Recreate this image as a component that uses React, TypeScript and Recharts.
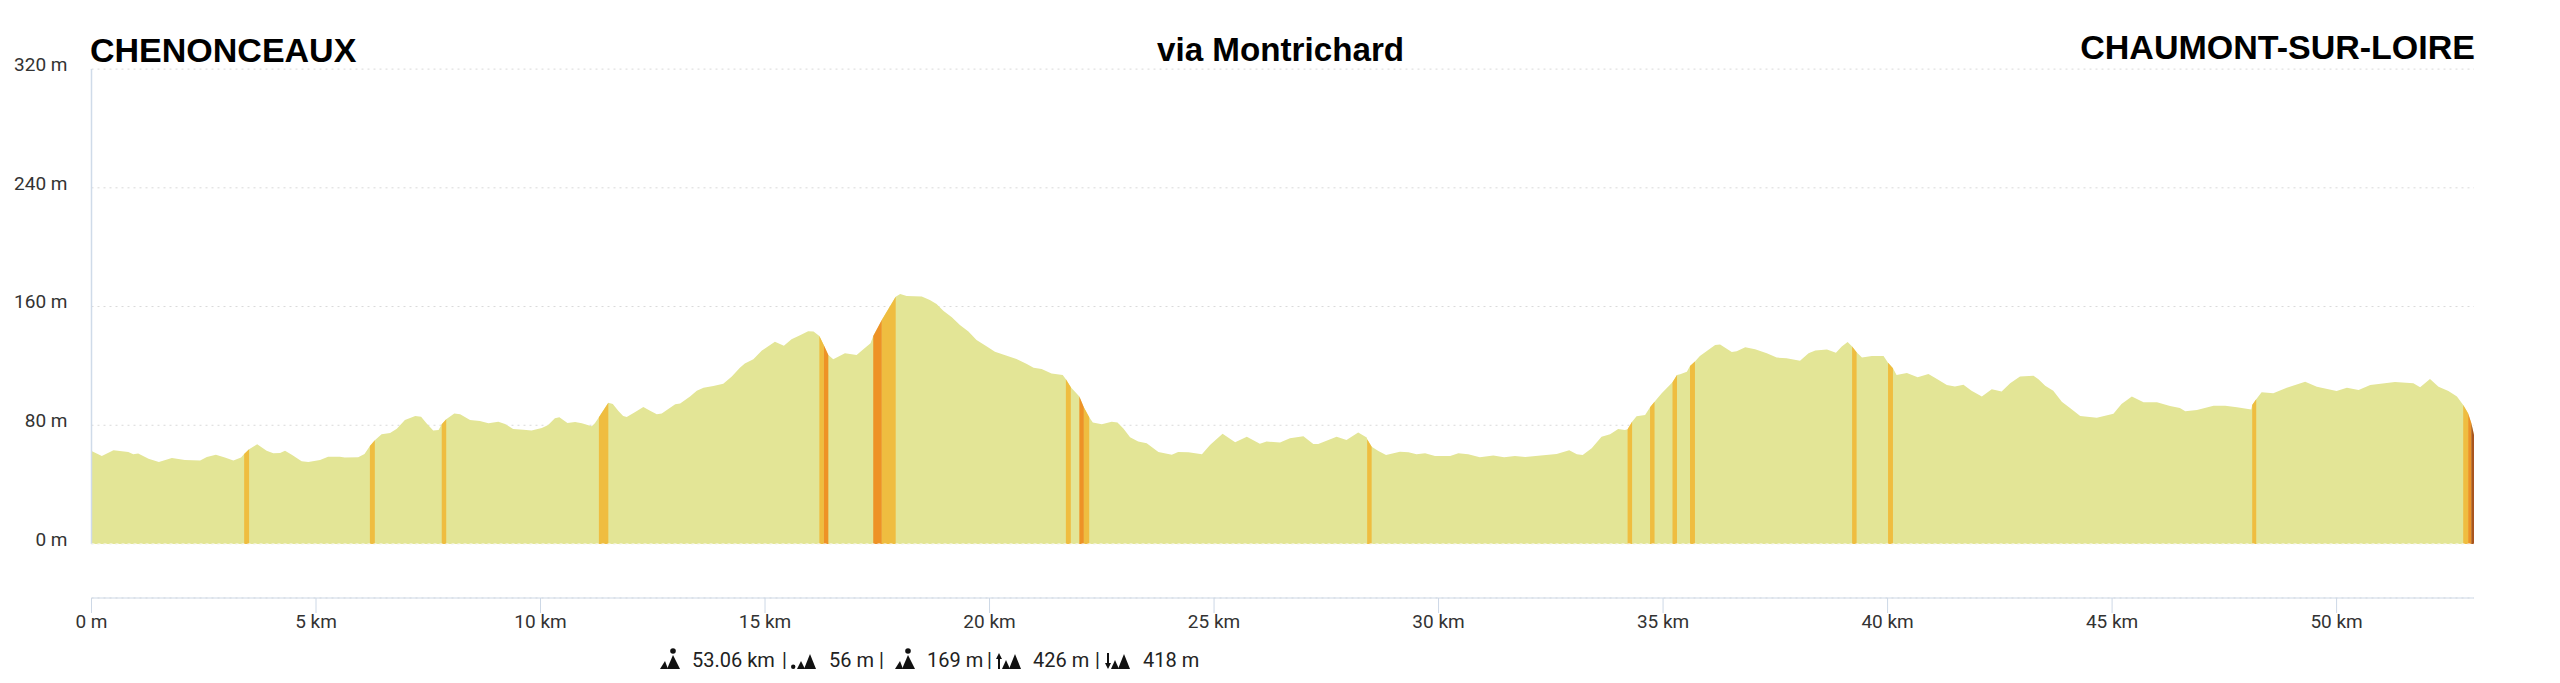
import { Area, AreaChart, CartesianGrid, ReferenceLine, XAxis, YAxis } from "recharts";

const TOTAL_KM = 53.06;
const X_TICKS = [0, 5, 10, 15, 20, 25, 30, 35, 40, 45, 50];
const Y_TICKS = [0, 80, 160, 240, 320];

// distance along the route (km)
const KMS = [
  0, 0.23, 0.49, 0.82, 0.93, 1.04, 1.27, 1.5, 1.79, 2.08, 2.42, 2.57, 2.77, 2.97, 3.16, 3.33, 3.4, 3.51, 3.69, 3.9,
  4.05, 4.2, 4.31, 4.46, 4.68, 4.83, 5.09, 5.27, 5.53, 5.64, 5.94, 6.08, 6.2, 6.31, 6.46, 6.65, 6.8, 6.98, 7.21, 7.34,
  7.46, 7.61, 7.73, 7.8, 7.9, 8.08, 8.21, 8.43, 8.65, 8.84, 9.06, 9.21, 9.39, 9.62, 9.8, 10.03, 10.17, 10.32, 10.42, 10.6,
  10.77, 10.92, 11.14, 11.21, 11.3, 11.51, 11.61, 11.73, 11.84, 11.92, 12.1, 12.29, 12.44, 12.59, 12.7, 13, 13.11, 13.33, 13.48, 13.63,
  13.85, 14.07, 14.26, 14.44, 14.55, 14.74, 14.93, 15.22, 15.42, 15.59, 15.78, 15.96, 16.08, 16.21, 16.31, 16.41, 16.52, 16.78, 17.04, 17.19,
  17.35, 17.41, 17.6, 17.91, 18.01, 18.155, 18.49, 18.67, 18.82, 18.97, 19.16, 19.34, 19.53, 19.71, 19.94, 20.12, 20.35, 20.6, 20.83, 20.98,
  21.16, 21.38, 21.63, 21.7, 21.81, 22, 22.1, 22.22, 22.3, 22.5, 22.72, 22.85, 22.98, 23.13, 23.31, 23.5, 23.76, 23.87, 24.06, 24.2,
  24.43, 24.73, 24.91, 25.19, 25.47, 25.73, 26.02, 26.17, 26.47, 26.69, 26.99, 27.21, 27.32, 27.73, 27.95, 28.21, 28.4, 28.41, 28.51, 28.66,
  28.83, 29.14, 29.33, 29.51, 29.7, 29.92, 30.26, 30.44, 30.66, 30.92, 31.22, 31.46, 31.7, 31.93, 32.22, 32.63, 32.91, 33.08, 33.21, 33.41,
  33.63, 33.82, 34, 34.15, 34.21, 34.31, 34.41, 34.6, 34.71, 34.81, 34.97, 35.21, 35.31, 35.38, 35.53, 35.6, 35.71, 35.82, 36.16, 36.27,
  36.53, 36.64, 36.83, 37.05, 37.31, 37.53, 37.75, 38.05, 38.24, 38.39, 38.65, 38.85, 38.98, 39.11, 39.21, 39.31, 39.43, 39.65, 39.91, 40.01,
  40.12, 40.2, 40.43, 40.67, 40.91, 41.1, 41.32, 41.5, 41.69, 41.87, 42.1, 42.32, 42.54, 42.73, 42.95, 43.25, 43.36, 43.51, 43.69, 43.88,
  44.07, 44.29, 44.66, 45.03, 45.21, 45.44, 45.7, 46, 46.29, 46.51, 46.63, 46.89, 47.26, 47.52, 47.78, 48.1, 48.12, 48.21, 48.33, 48.59,
  48.89, 49.3, 49.56, 50, 50.23, 50.49, 50.75, 51.3, 51.71, 51.86, 52.08, 52.27, 52.49, 52.68, 52.82, 52.93, 53, 53.06,
];

// elevation (m) at each of the KMS points
const ELEVATIONS = [
  62.7, 59.3, 63.1, 62, 60.4, 60.9, 57.5, 55.3, 58, 56.6, 56.2, 58.6, 60.2, 58.2, 56.2, 58.2, 60.6, 63.8, 67.2, 62.9,
  61.1, 61.3, 62.9, 60.2, 55.7, 55.3, 56.6, 58.8, 58.8, 58.2, 58.4, 60.6, 66, 69.9, 73.9, 74.8, 77.7, 83.6, 86.3, 85.8,
  81.3, 76.4, 76.8, 80.6, 84, 88, 87.4, 83.6, 82.9, 81.3, 82.4, 80.9, 77.5, 77, 76.4, 78.2, 80.2, 84.7, 85.4, 81.5,
  82.2, 81.3, 79.3, 81.3, 85.4, 95.2, 94.3, 89.8, 86.3, 85.6, 88.7, 92.3, 89.8, 87.4, 88, 94.1, 94.6, 99.3, 103.3, 105.3,
  106.5, 108, 112.8, 118.8, 121.7, 124.4, 130.3, 136.3, 133.6, 137.9, 140.6, 143.3, 143.1, 140.2, 133.9, 127.4, 124.4, 128.5, 127.4, 131.2,
  135.2, 140.2, 151, 166.6, 168.5, 167.1, 166.7, 164.4, 161.7, 157.2, 152.7, 147.6, 143.1, 137.5, 133, 129.6, 127.1, 124.7, 121.3, 118.8,
  117.9, 114.8, 113.9, 111, 105.6, 99.3, 92.1, 85.4, 81.8, 80.6, 82.4, 81.8, 77.9, 71.9, 69, 67.8, 62, 61.3, 60.2, 62,
  61.8, 60.4, 66.7, 74.3, 68.5, 72.3, 67.6, 69, 68.3, 71.2, 72.6, 67.4, 67.4, 72.3, 70.1, 75.2, 71.7, 70.5, 65.6, 62.7,
  60, 62.2, 61.8, 60.4, 61.1, 59.3, 59.3, 61.1, 60.4, 58.4, 59.7, 58.4, 59.3, 58.6, 59.5, 60.6, 63.1, 60.4, 60, 64.5,
  72.3, 73.9, 77.5, 76.8, 77.3, 82.4, 86, 86.9, 92.1, 95.9, 101.5, 108.9, 113.9, 114.3, 116.1, 120, 122.9, 126.7, 134.1, 134.5,
  129.4, 129.8, 132.5, 131.2, 128.5, 125.6, 125.1, 123.5, 128.5, 130.3, 131, 128.9, 133, 136.1, 133, 129.2, 125.6, 126.7, 126.7, 122.2,
  118.4, 113.9, 115.2, 112.3, 114.6, 111.2, 107.1, 106.2, 107.3, 103.3, 99.3, 104.2, 102.7, 108.3, 112.8, 113.4, 111, 106.7, 103.3, 95.9,
  91.4, 86.3, 85.1, 87.8, 94.3, 99.3, 95.5, 95.5, 93, 91.6, 89.4, 90.3, 93.2, 93.2, 92.1, 90.7, 93.7, 97.5, 102.2, 101.5,
  105.3, 109.4, 106, 103.1, 105.3, 103.8, 107.1, 109.2, 108.3, 105.6, 111.2, 106, 103.1, 99.3, 93.7, 88, 81.5, 73.5,
];

// steep stretches, [from km, to km] for each gradient class
const MODERATE_SLOPES = [
  [3.4, 3.51], [6.2, 6.31], [7.8, 7.9], [11.3, 11.51], [16.21, 16.31], [17.6, 17.91], [21.7, 21.81], [22.1, 22.22], [28.41, 28.51],
  [34.21, 34.31], [34.71, 34.81], [35.21, 35.31], [35.6, 35.71], [39.21, 39.31], [40.01, 40.12], [48.12, 48.21], [52.82, 52.93],
];
const STEEP_SLOPES = [[16.31, 16.41], [17.41, 17.6], [22, 22.1], [52.93, 53]];
const VERY_STEEP_SLOPES = [[53, 53.06]];

const inBands = (km: number, bands: number[][]) => bands.some(([a, b]) => km >= a && km <= b);

const data = KMS.map((km, i) => ({
  km,
  elevation: ELEVATIONS[i],
  moderate: inBands(km, MODERATE_SLOPES) ? ELEVATIONS[i] : null,
  steep: inBands(km, STEEP_SLOPES) ? ELEVATIONS[i] : null,
  verySteep: inBands(km, VERY_STEEP_SLOPES) ? ELEVATIONS[i] : null,
}));

const TICK_FONT = "Roboto, sans-serif";

function StatIcon({ kind, left }: { kind: "distance" | "min" | "up" | "down"; left: number }) {
  const wide = kind !== "distance";
  return (
    <svg
      width={wide ? 25 : 20}
      height={21}
      viewBox={wide ? "0 0 25 21" : "0 0 20 21"}
      style={{ position: "absolute", left, top: 648 }}
      fill="#111"
    >
      {kind === "distance" && (
        <>
          <path d="M0 21 L5 13 L8 21 Z" />
          <path d="M7 21 L13 7 L20 21 Z" />
          <circle cx="13" cy="3" r="2.8" />
        </>
      )}
      {kind === "min" && (
        <>
          <circle cx="2.2" cy="18.8" r="2.2" />
          <path d="M6 21 L10 13 L14 21 Z" />
          <path d="M13 21 L19 6 L25 21 Z" />
        </>
      )}
      {kind === "up" && (
        <>
          <path d="M2 21 L2 11 L0 11 L3 5 L6 11 L4 11 L4 21 Z" />
          <path d="M6 21 L10 12 L14 21 Z" />
          <path d="M13 21 L19 6 L25 21 Z" />
        </>
      )}
      {kind === "down" && (
        <>
          <path d="M2 5 L2 15 L0 15 L3 21 L6 15 L4 15 L4 5 Z" />
          <path d="M6 21 L10 12 L14 21 Z" />
          <path d="M13 21 L19 6 L25 21 Z" />
        </>
      )}
    </svg>
  );
}

const titleStyle = {
  position: "absolute",
  fontFamily: "'Liberation Sans', Arial, sans-serif",
  fontWeight: 700,
  color: "#000",
  whiteSpace: "nowrap",
  lineHeight: 1,
} as const;

const statStyle = {
  position: "absolute",
  top: 648,
  fontFamily: TICK_FONT,
  fontSize: 20,
  lineHeight: "24px",
  color: "#222",
  whiteSpace: "nowrap",
} as const;

export default function App() {
  return (
    <div style={{ position: "absolute", left: 0, top: 0, width: 2560, height: 683, background: "#fff", overflow: "hidden" }}>
      <AreaChart
        width={2560}
        height={683}
        data={data}
        margin={{ top: 69.1, right: 86, bottom: 0, left: 0 }}
      >
        <CartesianGrid vertical={false} stroke="#d9d9d9" strokeDasharray="2 4" />
        <XAxis
          dataKey="km"
          type="number"
          domain={[0, TOTAL_KM]}
          ticks={X_TICKS}
          height={85}
          interval={0}
          stroke="#cdd8e6"
          tickSize={15}
          tickMargin={2}
          tick={{ fill: "#333", fontSize: 19, fontFamily: TICK_FONT }}
          tickFormatter={(v: number) => (v === 0 ? "0 m" : `${v} km`)}
        />
        <YAxis
          type="number"
          domain={[-36.4, 320]}
          ticks={Y_TICKS}
          width={91.5}
          interval={0}
          axisLine={false}
          tickLine={false}
          tickMargin={18}
          tick={{ fill: "#333", fontSize: 19, fontFamily: TICK_FONT, dy: -5 }}
          tickFormatter={(v: number) => `${v} m`}
        />
        <ReferenceLine
          segment={[{ x: 0, y: 0 }, { x: 0, y: 320 }]}
          stroke="#cfdbe9"
          strokeWidth={1.5}
        />
        <Area dataKey="elevation" type="linear" baseValue={0} stroke="none" fill="#E3E596" fillOpacity={1} dot={false} activeDot={false} isAnimationActive={false} />
        <Area dataKey="moderate" type="linear" baseValue={0} stroke="none" fill="#EFBD40" fillOpacity={1} dot={false} activeDot={false} isAnimationActive={false} />
        <Area dataKey="steep" type="linear" baseValue={0} stroke="none" fill="#EE9226" fillOpacity={1} dot={false} activeDot={false} isAnimationActive={false} />
        <Area dataKey="verySteep" type="linear" baseValue={0} stroke="none" fill="#A9551F" fillOpacity={1} dot={false} activeDot={false} isAnimationActive={false} />
        <ReferenceLine y={0} stroke="#fff" strokeDasharray="3 3" />
      </AreaChart>

      <div style={{ ...titleStyle, left: 90, top: 33, fontSize: 34 }}>CHENONCEAUX</div>
      <div style={{ ...titleStyle, left: 1157, top: 33, fontSize: 33.2 }}>via Montrichard</div>
      <div style={{ ...titleStyle, right: 85, top: 30, fontSize: 34 }}>CHAUMONT-SUR-LOIRE</div>

      <StatIcon kind="distance" left={660} />
      <span style={{ ...statStyle, left: 692 }}>53.06 km</span>
      <span style={{ ...statStyle, left: 782 }}>|</span>
      <StatIcon kind="min" left={791} />
      <span style={{ ...statStyle, left: 829 }}>56 m</span>
      <span style={{ ...statStyle, left: 879 }}>|</span>
      <StatIcon kind="distance" left={895} />
      <span style={{ ...statStyle, left: 927 }}>169 m</span>
      <span style={{ ...statStyle, left: 987 }}>|</span>
      <StatIcon kind="up" left={996} />
      <span style={{ ...statStyle, left: 1033 }}>426 m</span>
      <span style={{ ...statStyle, left: 1095 }}>|</span>
      <StatIcon kind="down" left={1105} />
      <span style={{ ...statStyle, left: 1143 }}>418 m</span>
    </div>
  );
}
